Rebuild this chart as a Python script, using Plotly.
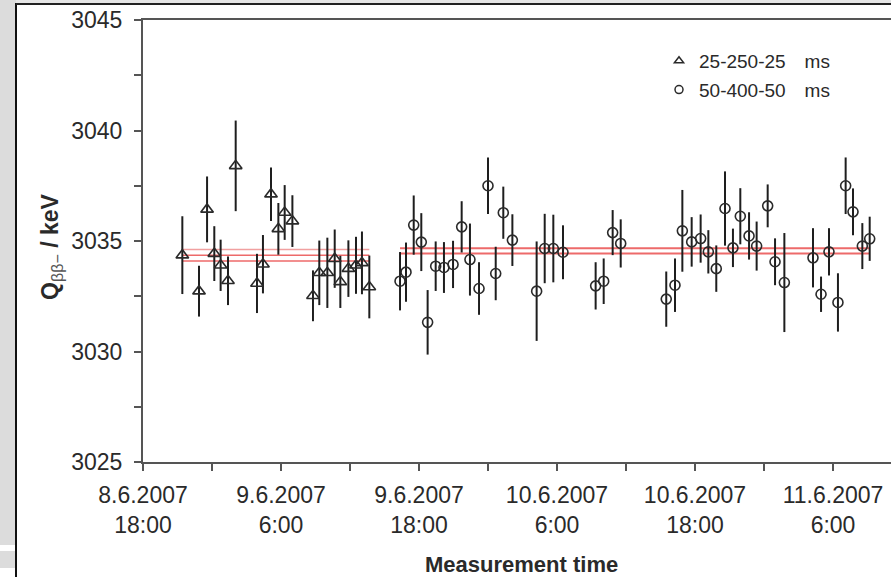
import pandas as pd
import plotly.graph_objects as go

# ---- data ----
t0 = "2007-06-08 18:00"

tri_hours = [3.42, 4.87, 5.57, 6.20, 6.75, 7.39, 8.06, 9.91, 10.43, 11.13, 11.77,
             12.32, 12.99, 14.78, 15.33, 16.03, 16.67, 17.16, 17.86, 18.52, 19.04, 19.68]
tri_q = [3034.36, 3032.73, 3036.43, 3034.43, 3033.90, 3033.20, 3038.40, 3033.08, 3033.95,
         3037.12, 3035.55, 3036.29, 3035.90, 3032.52, 3033.56, 3033.56, 3034.20, 3033.15,
         3033.75, 3033.90, 3034.01, 3032.92]
tri_err = [1.76, 1.15, 1.49, 1.24, 1.16, 1.10, 2.05, 1.34, 1.32, 1.21, 1.17,
           1.24, 1.17, 1.15, 1.46, 1.59, 1.32, 1.18, 1.28, 1.29, 1.42, 1.42]

circ_hours = [22.35, 22.87, 23.54, 24.20, 24.75, 25.45, 26.17, 26.96, 27.71, 28.43, 29.22,
              30.00, 30.67, 31.33, 32.12, 34.23, 34.93, 35.68, 36.52, 39.36, 40.06, 40.84,
              41.54, 45.50, 46.26, 46.90, 47.71, 48.49, 49.16, 49.85, 50.61, 51.30, 51.94,
              52.70, 53.36, 54.32, 54.96, 55.77, 58.26, 58.96, 59.65, 60.43, 61.10, 61.74,
              62.55, 63.19]
circ_q = [3033.18, 3033.59, 3035.72, 3034.95, 3031.32, 3033.86, 3033.80, 3033.94, 3035.64,
          3034.16, 3032.85, 3037.50, 3033.53, 3036.28, 3035.04, 3032.73, 3034.66, 3034.66,
          3034.49, 3032.97, 3033.18, 3035.38, 3034.89, 3032.37, 3033.00, 3035.46, 3034.96,
          3035.11, 3034.51, 3033.75, 3036.47, 3034.69, 3036.12, 3035.23, 3034.77, 3036.59,
          3034.06, 3033.12, 3034.24, 3032.59, 3034.51, 3032.22, 3037.50, 3036.32, 3034.77,
          3035.10]
circ_err = [1.32, 1.34, 1.34, 1.31, 1.46, 1.12, 1.15, 1.07, 1.16, 1.63, 1.19, 1.28, 1.21,
            1.18, 1.17, 2.25, 1.57, 1.53, 1.22, 1.07, 1.03, 1.02, 1.09, 1.25, 1.21, 1.85,
            1.12, 1.09, 0.98, 1.05, 1.68, 0.87, 1.27, 1.07, 1.11, 0.97, 1.06, 2.24, 1.34,
            0.80, 1.07, 1.32, 1.28, 1.06, 1.04, 1.00]

# weighted means (upper / central / lower)
tri_fit = [3034.62, 3034.36, 3034.10]
circ_fit = [3034.67, 3034.43]

tick_hours = [0, 12, 24, 36, 48, 60]
tick_text = ["8.6.2007<br>18:00", "9.6.2007<br>6:00", "9.6.2007<br>18:00",
             "10.6.2007<br>6:00", "10.6.2007<br>18:00", "11.6.2007<br>6:00"]
legend_names = ["25-250-25\u2002\u2002ms", "50-400-50\u2002\u2002ms"]

# ---- helpers ----
T0 = pd.Timestamp(t0)
def tt(hours):
    return [T0 + pd.Timedelta(hours=h) for h in hours]

W, H = 891, 577
ML, MR, MT, MB = 143, 0, 20, 115
PW, PH = W - ML - MR, H - MT - MB
def px(x):
    return (x - ML) / PW
def py(y):
    return (H - MB - y) / PH

FONT = "Liberation Sans, Arial, sans-serif"
INK = "#2a2a2a"

fig = go.Figure()

# fitted mean lines
fit_cols_tri = ["rgba(240,150,150,0.9)", "rgba(235,90,90,0.9)", "rgba(235,90,90,0.9)"]
for v, c in zip(tri_fit, fit_cols_tri):
    fig.add_trace(go.Scatter(x=tt([tri_hours[0], tri_hours[-1]]), y=[v, v], mode="lines",
                             line=dict(color=c, width=1.5), showlegend=False, hoverinfo="skip"))
for v in circ_fit:
    fig.add_trace(go.Scatter(x=tt([circ_hours[0], circ_hours[-1]]), y=[v, v], mode="lines",
                             line=dict(color="rgba(235,90,90,0.9)", width=2), showlegend=False,
                             hoverinfo="skip"))

# data
fig.add_trace(go.Scatter(
    x=tt(tri_hours), y=tri_q, mode="markers", showlegend=False,
    marker=dict(symbol="triangle-up-open", size=11, color=INK, line=dict(width=1.6, color=INK)),
    error_y=dict(type="data", array=tri_err, visible=True, thickness=2, width=0, color="#1e1e1e")))
fig.add_trace(go.Scatter(
    x=tt(circ_hours), y=circ_q, mode="markers", showlegend=False,
    marker=dict(symbol="circle-open", size=10, color=INK, line=dict(width=1.6, color=INK)),
    error_y=dict(type="data", array=circ_err, visible=True, thickness=2, width=0, color="#1e1e1e")))

# legend-only entries
fig.add_trace(go.Scatter(x=[None], y=[None], mode="markers", name=legend_names[0], legendgroup="a",
                         marker=dict(symbol="triangle-up-open", size=8, color=INK,
                                     line=dict(width=1.5, color=INK))))
fig.add_trace(go.Scatter(x=[None], y=[None], mode="markers", name=legend_names[1], legendgroup="b",
                         marker=dict(symbol="circle-open", size=8, color=INK,
                                     line=dict(width=1.5, color=INK))))

x_end = T0 + pd.Timedelta(hours=(W - ML) / 11.5)

fig.update_layout(
    width=W, height=H,
    margin=dict(l=ML, r=MR, t=MT, b=MB),
    paper_bgcolor="white", plot_bgcolor="white",
    font=dict(family=FONT, color=INK),
    legend=dict(x=px(659), y=py(42), xanchor="left", yanchor="top", bgcolor="rgba(0,0,0,0)",
                font=dict(size=19, color=INK), tracegroupgap=1, itemwidth=30),
    xaxis=dict(type="date", range=[T0, x_end], tickmode="array", tickvals=tt(tick_hours),
               ticktext=tick_text, ticks="outside", ticklen=7, tickwidth=1.5, tickcolor="#555",
               showline=True, linecolor="#555", linewidth=2, mirror=True, showgrid=False,
               zeroline=False, tickfont=dict(size=23, color=INK, family=FONT),
               ticklabelstandoff=4,
               minor=dict(tickmode="linear", tick0=T0, dtick=6 * 3600 * 1000, ticks="outside",
                          ticklen=7, tickwidth=1.5, tickcolor="#555", showgrid=False)),
    yaxis=dict(range=[3025, 3045], tickmode="linear", tick0=3025, dtick=5, ticks="outside",
               ticklen=7, tickwidth=1.5, tickcolor="#555", showline=True, linecolor="#555",
               linewidth=2, mirror=False, showgrid=False, zeroline=False,
               tickfont=dict(size=23, color=INK, family=FONT), ticklabelstandoff=7,
               minor=dict(tickmode="linear", tick0=3025, dtick=2.5, ticks="outside", ticklen=7,
                          tickwidth=1.5, tickcolor="#555", showgrid=False)),
)

# titles
fig.add_annotation(xref="paper", yref="paper", x=px(521), y=py(564), xanchor="center",
                   yanchor="middle", showarrow=False,
                   text="<b>Measurement time</b>", font=dict(size=22, color=INK, family=FONT))
fig.add_annotation(xref="paper", yref="paper", x=px(52), y=py(247), xanchor="center",
                   yanchor="middle", showarrow=False, textangle=-90,
                   text="<b>Q</b><sub><span style='color:#555'>ββ−</span></sub><b> / keV</b>",
                   font=dict(size=23, color=INK, family=FONT))

# page frame decoration
fig.add_shape(type="rect", xref="paper", yref="paper", x0=px(0), x1=px(16), y0=py(545), y1=py(0),
              fillcolor="#dcdcdc", line=dict(width=0), layer="below")
fig.add_shape(type="rect", xref="paper", yref="paper", x0=px(0), x1=px(16), y0=py(568), y1=py(551),
              fillcolor="#dcdcdc", line=dict(width=0), layer="below")
fig.add_shape(type="rect", xref="paper", yref="paper", x0=px(16), x1=px(W), y0=py(3), y1=py(0),
              fillcolor="#e6e6e6", line=dict(width=0), layer="below")
fig.add_shape(type="line", xref="paper", yref="paper", x0=px(16), x1=px(16), y0=py(H), y1=py(3),
              line=dict(color="#111", width=2))
fig.add_shape(type="line", xref="paper", yref="paper", x0=px(16), x1=px(W), y0=py(4), y1=py(4),
              line=dict(color="#222", width=2))
fig.add_annotation(xref="paper", yref="paper", x=px(6), y=py(586), xanchor="center",
                   yanchor="middle", showarrow=False, text="o",
                   font=dict(size=26, color="#111", family=FONT))

fig.write_html("out.html")
